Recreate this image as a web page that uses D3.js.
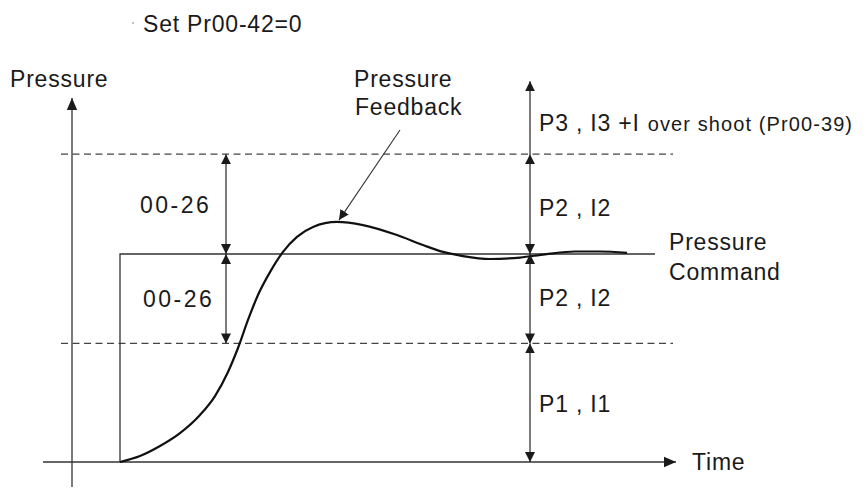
<!DOCTYPE html>
<meta charset="utf-8">
<title>Pressure PID zones</title>
<style>
  body { margin: 0; background: #fff; }
  text { font-family: "Liberation Sans", Arial, sans-serif; fill: #1a1a1a; }
</style>
<body>
<script src="https://cdn.jsdelivr.net/npm/d3@7"></script>
<script>

var width = 866,
    height = 488;

// pressure feedback curve (time, pressure), command = 100
var feedbackT = [0, 0.4, 0.8, 1.2, 1.6, 1.9, 2.16, 2.36, 2.56, 2.76, 3.0, 3.26, 3.54, 3.86, 4.34, 4.86, 5.54, 6.06, 6.46, 6.86, 7.4, 8.0, 8.5, 9.1, 9.6, 10.14];
var feedbackP = [0, 2.9, 7.7, 13.9, 22.6, 31.7, 43.3, 54.8, 68.3, 80.3, 91.3, 101, 108.2, 113, 115.4, 113.9, 109.1, 104.3, 101, 99, 97.6, 98.3, 99.8, 101.2, 101.2, 100.5];

var commandT = [0, 10.7];
var commandLevel = 100;

// dashed band limits (00-26 either side of the command)
var bandLevels = [57, 148];

// right hand zones: [from, to, label]
var zoneFrom = [0, 57, 100, 148];
var zoneTo = [57, 100, 148, 183];
var zoneLabels = ["P1 , I1", "P2 , I2", "P2 , I2", "P3 , I3 +I"];

var x = d3.scaleLinear().domain([0, 11]).range([120, 670]),
    y = d3.scaleLinear().domain([0, 100]).range([462, 254]);

var svg = d3.select("body").append("svg")
    .attr("width", width)
    .attr("height", height);

var defs = svg.append("defs");
defs.append("marker")
    .attr("id", "head")
    .attr("viewBox", "0 0 12 12")
    .attr("refX", 12).attr("refY", 6)
    .attr("markerWidth", 12).attr("markerHeight", 12)
    .attr("markerUnits", "userSpaceOnUse")
    .attr("orient", "auto-start-reverse")
  .append("path")
    .attr("d", "M0,0.8L12,6L0,11.2Z")
    .attr("fill", "#1a1a1a");
defs.append("marker")
    .attr("id", "small")
    .attr("viewBox", "0 0 10 10")
    .attr("refX", 10).attr("refY", 5)
    .attr("markerWidth", 10).attr("markerHeight", 10)
    .attr("markerUnits", "userSpaceOnUse")
    .attr("orient", "auto-start-reverse")
  .append("path")
    .attr("d", "M0,0L10,5L0,10Z")
    .attr("fill", "#1a1a1a");

function seg(x1, y1, x2, y2) {
  return svg.append("line")
      .attr("x1", x(x1)).attr("y1", y(y1))
      .attr("x2", x(x2)).attr("y2", y(y2))
      .attr("stroke", "#333")
      .attr("stroke-width", 1.3);
}

// axes
seg(-1.54, 0, 11.12, 0).attr("marker-end", "url(#head)");
seg(-0.96, -12, -0.96, 175).attr("marker-end", "url(#head)");

// dashed limits
bandLevels.forEach(function(b) {
  seg(-1.18, b, 11.06, b)
      .attr("stroke", "#444")
      .attr("stroke-width", 1.2)
      .attr("stroke-dasharray", "7,4.5");
});

// pressure command step
svg.append("path")
    .attr("d", d3.line()([[x(commandT[0]), y(0)], [x(commandT[0]), y(commandLevel)], [x(commandT[1]), y(commandLevel)]]))
    .attr("fill", "none")
    .attr("stroke", "#333")
    .attr("stroke-width", 1.3);

// feedback curve
var pts = feedbackT.map(function(t, i) { return [x(t), y(feedbackP[i])]; });
svg.append("path")
    .attr("d", d3.line().curve(d3.curveMonotoneX)(pts))
    .attr("fill", "none")
    .attr("stroke", "#111")
    .attr("stroke-width", 2.2);

// left double arrows 00-26
[[commandLevel, bandLevels[1]], [bandLevels[0], commandLevel]].forEach(function(r) {
  seg(2.12, r[0], 2.12, r[1])
      .attr("marker-start", "url(#small)")
      .attr("marker-end", "url(#small)");
});

// right hand zones
zoneFrom.forEach(function(f, i) {
  var l = seg(8.2, f, 8.2, zoneTo[i]).attr("marker-end", "url(#small)");
  if (i < 3) l.attr("marker-start", "url(#small)");
});

// feedback pointer
seg(5.6, 159.6, 4.38, 116.3)
    .attr("stroke-width", 1.1)
    .attr("marker-end", "url(#small)");

function label(px, py, s, sp) {
  return svg.append("text")
      .attr("x", px).attr("y", py)
      .attr("font-size", 23)
      .attr("letter-spacing", sp == null ? 0.8 : sp)
      .text(s);
}

svg.append("circle").attr("cx", 133).attr("cy", 23).attr("r", 1).attr("fill", "#aaa");
label(143, 32, "Set Pr00-42=0");
label(10, 87, "Pressure");
label(354, 87, "Pressure");
label(355, 115, "Feedback");
label(140, 213, "00-26", 2.5);
label(143, 307, "00-26", 2.5);
label(669, 250, "Pressure");
label(669, 280, "Command");
label(692, 470, "Time");

var zoneBase = [412, 306, 216, 131];
zoneLabels.forEach(function(s, i) {
  var t = label(539, zoneBase[i], s);
  if (i == 3) {
    t.append("tspan")
        .attr("font-size", 20)
        .attr("letter-spacing", 1.1)
        .attr("dx", 8)
        .text("over shoot (Pr00-39)");
  }
});

</script>
